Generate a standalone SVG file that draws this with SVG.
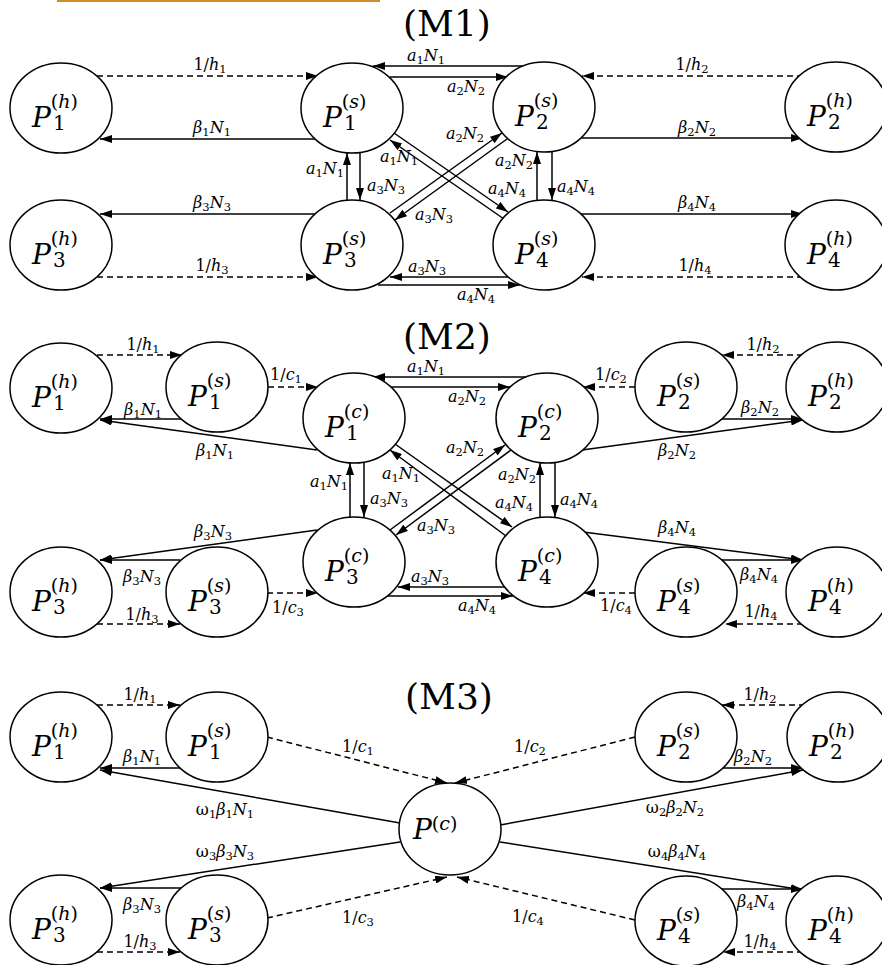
<svg xmlns="http://www.w3.org/2000/svg" width="882" height="965" viewBox="0 0 882 965">
<defs>
  <marker id="ah" markerWidth="12" markerHeight="8" refX="12" refY="4" orient="auto" markerUnits="userSpaceOnUse">
    <path d="M0,0 L12,4 L0,8 z" fill="#000"/>
  </marker>
  <style>
    ellipse { fill: #fff; stroke: #000; stroke-width: 1.5; }
    .e { fill: none; stroke: #000; stroke-width: 1.5; marker-end: url(#ah); }
    .d { stroke-dasharray: 6 4; }
    .P { font-family: "DejaVu Serif", serif; font-style: italic; font-size: 28px; }
    .sp { font-style: normal; font-size: 19px; }
    .sub { font-style: normal; font-size: 20px; }
    .lb { font-family: "DejaVu Serif", serif; font-size: 16px; text-anchor: middle; }
    .i { font-style: italic; }
    .sb { font-size: 11.5px; }
    .ttl { font-family: "DejaVu Serif", serif; font-size: 36px; text-anchor: middle; }
  </style>
</defs>
<rect width="882" height="965" fill="#fff"/>
<rect x="57" y="0" width="323" height="2" fill="#d08a2a"/>

<!-- section titles -->
<text class="ttl" x="447" y="36">(M1)</text>
<text class="ttl" x="447" y="349">(M2)</text>
<text class="ttl" x="449" y="709">(M3)</text>

<!-- connectors -->
<g id="connectors">
  <!-- M1 -->
  <line class="e d" x1="97" y1="76" x2="318" y2="76"/>
  <line class="e" x1="317" y1="139" x2="100" y2="139"/>
  <line class="e" x1="523" y1="66" x2="373" y2="66"/>
  <line class="e" x1="390" y1="77" x2="508" y2="77"/>
  <line class="e d" x1="803" y1="76" x2="582" y2="76"/>
  <line class="e" x1="580" y1="138" x2="803" y2="138"/>
  <line class="e" x1="347" y1="200" x2="347" y2="153"/>
  <line class="e" x1="360" y1="153" x2="360" y2="200"/>
  <line class="e" x1="537" y1="200" x2="537" y2="152"/>
  <line class="e" x1="552" y1="152" x2="552" y2="200"/>
  <line class="e" x1="508" y1="277" x2="390" y2="277"/>
  <line class="e" x1="378" y1="285" x2="520" y2="285"/>
  <line class="e" x1="394" y1="133" x2="508" y2="212"/>
  <line class="e" x1="504" y1="219" x2="390" y2="140"/>
  <line class="e" x1="390" y1="213" x2="502" y2="133"/>
  <line class="e" x1="507" y1="139" x2="395" y2="220"/>
  <line class="e d" x1="803" y1="277" x2="582" y2="277"/>
  <line class="e" x1="580" y1="214" x2="803" y2="214"/>
  <line class="e" x1="317" y1="214" x2="100" y2="214"/>
  <line class="e d" x1="97" y1="277" x2="318" y2="277"/>

  <!-- M2 -->
  <line class="e d" x1="97" y1="355" x2="182" y2="355"/>
  <line class="e" x1="183" y1="419" x2="100" y2="419"/>
  <line class="e" x1="317" y1="450" x2="100" y2="420"/>
  <line class="e d" x1="268" y1="387" x2="318" y2="387"/>
  <line class="e" x1="527" y1="377" x2="373" y2="377"/>
  <line class="e" x1="390" y1="387" x2="510" y2="387"/>
  <line class="e d" x1="635" y1="387" x2="583" y2="387"/>
  <line class="e d" x1="803" y1="355" x2="722" y2="355"/>
  <line class="e" x1="722" y1="419" x2="803" y2="419"/>
  <line class="e" x1="582" y1="450" x2="803" y2="420"/>
  <line class="e" x1="350" y1="517" x2="350" y2="463"/>
  <line class="e" x1="364" y1="463" x2="364" y2="517"/>
  <line class="e" x1="540" y1="517" x2="540" y2="463"/>
  <line class="e" x1="555" y1="463" x2="555" y2="517"/>
  <line class="e" x1="395" y1="444" x2="512" y2="527"/>
  <line class="e" x1="506" y1="536" x2="390" y2="450"/>
  <line class="e" x1="390" y1="530" x2="505" y2="445"/>
  <line class="e" x1="511" y1="450" x2="396" y2="535"/>
  <line class="e" x1="317" y1="530" x2="100" y2="560"/>
  <line class="e" x1="180" y1="560" x2="100" y2="560"/>
  <line class="e d" x1="97" y1="624" x2="180" y2="624"/>
  <line class="e d" x1="267" y1="593" x2="318" y2="593"/>
  <line class="e" x1="505" y1="587" x2="398" y2="587"/>
  <line class="e" x1="387" y1="596" x2="513" y2="596"/>
  <line class="e" x1="583" y1="532" x2="803" y2="560"/>
  <line class="e" x1="720" y1="560" x2="803" y2="560"/>
  <line class="e d" x1="635" y1="593" x2="583" y2="593"/>
  <line class="e d" x1="803" y1="624" x2="725" y2="624"/>

  <!-- M3 -->
  <line class="e d" x1="97" y1="705" x2="180" y2="705"/>
  <line class="e" x1="182" y1="768" x2="100" y2="768"/>
  <line class="e" x1="400" y1="823" x2="100" y2="770"/>
  <line class="e d" x1="267" y1="737" x2="447" y2="783"/>
  <line class="e d" x1="635" y1="737" x2="455" y2="783"/>
  <line class="e d" x1="805" y1="705" x2="722" y2="705"/>
  <line class="e" x1="722" y1="768" x2="803" y2="768"/>
  <line class="e" x1="500" y1="825" x2="803" y2="770"/>
  <line class="e" x1="400" y1="842" x2="100" y2="888"/>
  <line class="e" x1="182" y1="888" x2="100" y2="888"/>
  <line class="e d" x1="97" y1="952" x2="180" y2="952"/>
  <line class="e d" x1="267" y1="918" x2="447" y2="877"/>
  <line class="e" x1="500" y1="842" x2="803" y2="890"/>
  <line class="e" x1="720" y1="889" x2="803" y2="889"/>
  <line class="e d" x1="803" y1="952" x2="723" y2="952"/>
  <line class="e d" x1="635" y1="920" x2="457" y2="877"/>
</g>

<!-- connector labels -->
<g id="labels">
  <!-- M1 -->
  <text class="lb" x="210" y="70">1/<tspan class="i">h</tspan><tspan class="sb" dy="3">1</tspan></text>
  <text class="lb" x="212" y="133"><tspan class="i">β</tspan><tspan class="sb" dy="3">1</tspan><tspan class="i" dy="-3">N</tspan><tspan class="sb" dy="3">1</tspan></text>
  <text class="lb" x="426" y="61"><tspan class="i">a</tspan><tspan class="sb" dy="3">1</tspan><tspan class="i" dy="-3">N</tspan><tspan class="sb" dy="3">1</tspan></text>
  <text class="lb" x="466" y="92"><tspan class="i">a</tspan><tspan class="sb" dy="3">2</tspan><tspan class="i" dy="-3">N</tspan><tspan class="sb" dy="3">2</tspan></text>
  <text class="lb" x="692" y="70">1/<tspan class="i">h</tspan><tspan class="sb" dy="3">2</tspan></text>
  <text class="lb" x="697" y="133"><tspan class="i">β</tspan><tspan class="sb" dy="3">2</tspan><tspan class="i" dy="-3">N</tspan><tspan class="sb" dy="3">2</tspan></text>
  <text class="lb" x="325" y="174"><tspan class="i">a</tspan><tspan class="sb" dy="3">1</tspan><tspan class="i" dy="-3">N</tspan><tspan class="sb" dy="3">1</tspan></text>
  <text class="lb" x="386" y="191"><tspan class="i">a</tspan><tspan class="sb" dy="3">3</tspan><tspan class="i" dy="-3">N</tspan><tspan class="sb" dy="3">3</tspan></text>
  <text class="lb" x="514" y="166"><tspan class="i">a</tspan><tspan class="sb" dy="3">2</tspan><tspan class="i" dy="-3">N</tspan><tspan class="sb" dy="3">2</tspan></text>
  <text class="lb" x="576" y="192"><tspan class="i">a</tspan><tspan class="sb" dy="3">4</tspan><tspan class="i" dy="-3">N</tspan><tspan class="sb" dy="3">4</tspan></text>
  <text class="lb" x="399" y="162"><tspan class="i">a</tspan><tspan class="sb" dy="3">1</tspan><tspan class="i" dy="-3">N</tspan><tspan class="sb" dy="3">1</tspan></text>
  <text class="lb" x="507" y="194"><tspan class="i">a</tspan><tspan class="sb" dy="3">4</tspan><tspan class="i" dy="-3">N</tspan><tspan class="sb" dy="3">4</tspan></text>
  <text class="lb" x="465" y="139"><tspan class="i">a</tspan><tspan class="sb" dy="3">2</tspan><tspan class="i" dy="-3">N</tspan><tspan class="sb" dy="3">2</tspan></text>
  <text class="lb" x="434" y="220"><tspan class="i">a</tspan><tspan class="sb" dy="3">3</tspan><tspan class="i" dy="-3">N</tspan><tspan class="sb" dy="3">3</tspan></text>
  <text class="lb" x="427" y="272"><tspan class="i">a</tspan><tspan class="sb" dy="3">3</tspan><tspan class="i" dy="-3">N</tspan><tspan class="sb" dy="3">3</tspan></text>
  <text class="lb" x="476" y="300"><tspan class="i">a</tspan><tspan class="sb" dy="3">4</tspan><tspan class="i" dy="-3">N</tspan><tspan class="sb" dy="3">4</tspan></text>
  <text class="lb" x="212" y="208"><tspan class="i">β</tspan><tspan class="sb" dy="3">3</tspan><tspan class="i" dy="-3">N</tspan><tspan class="sb" dy="3">3</tspan></text>
  <text class="lb" x="212" y="271">1/<tspan class="i">h</tspan><tspan class="sb" dy="3">3</tspan></text>
  <text class="lb" x="697" y="208"><tspan class="i">β</tspan><tspan class="sb" dy="3">4</tspan><tspan class="i" dy="-3">N</tspan><tspan class="sb" dy="3">4</tspan></text>
  <text class="lb" x="695" y="271">1/<tspan class="i">h</tspan><tspan class="sb" dy="3">4</tspan></text>

  <!-- M2 -->
  <text class="lb" x="143" y="350">1/<tspan class="i">h</tspan><tspan class="sb" dy="3">1</tspan></text>
  <text class="lb" x="143" y="415"><tspan class="i">β</tspan><tspan class="sb" dy="3">1</tspan><tspan class="i" dy="-3">N</tspan><tspan class="sb" dy="3">1</tspan></text>
  <text class="lb" x="215" y="456"><tspan class="i">β</tspan><tspan class="sb" dy="3">1</tspan><tspan class="i" dy="-3">N</tspan><tspan class="sb" dy="3">1</tspan></text>
  <text class="lb" x="286" y="380">1/<tspan class="i">c</tspan><tspan class="sb" dy="3">1</tspan></text>
  <text class="lb" x="426" y="372"><tspan class="i">a</tspan><tspan class="sb" dy="3">1</tspan><tspan class="i" dy="-3">N</tspan><tspan class="sb" dy="3">1</tspan></text>
  <text class="lb" x="467" y="402"><tspan class="i">a</tspan><tspan class="sb" dy="3">2</tspan><tspan class="i" dy="-3">N</tspan><tspan class="sb" dy="3">2</tspan></text>
  <text class="lb" x="611" y="380">1/<tspan class="i">c</tspan><tspan class="sb" dy="3">2</tspan></text>
  <text class="lb" x="763" y="350">1/<tspan class="i">h</tspan><tspan class="sb" dy="3">2</tspan></text>
  <text class="lb" x="760" y="413"><tspan class="i">β</tspan><tspan class="sb" dy="3">2</tspan><tspan class="i" dy="-3">N</tspan><tspan class="sb" dy="3">2</tspan></text>
  <text class="lb" x="677" y="456"><tspan class="i">β</tspan><tspan class="sb" dy="3">2</tspan><tspan class="i" dy="-3">N</tspan><tspan class="sb" dy="3">2</tspan></text>
  <text class="lb" x="329" y="487"><tspan class="i">a</tspan><tspan class="sb" dy="3">1</tspan><tspan class="i" dy="-3">N</tspan><tspan class="sb" dy="3">1</tspan></text>
  <text class="lb" x="389" y="504"><tspan class="i">a</tspan><tspan class="sb" dy="3">3</tspan><tspan class="i" dy="-3">N</tspan><tspan class="sb" dy="3">3</tspan></text>
  <text class="lb" x="517" y="480"><tspan class="i">a</tspan><tspan class="sb" dy="3">2</tspan><tspan class="i" dy="-3">N</tspan><tspan class="sb" dy="3">2</tspan></text>
  <text class="lb" x="579" y="505"><tspan class="i">a</tspan><tspan class="sb" dy="3">4</tspan><tspan class="i" dy="-3">N</tspan><tspan class="sb" dy="3">4</tspan></text>
  <text class="lb" x="401" y="479"><tspan class="i">a</tspan><tspan class="sb" dy="3">1</tspan><tspan class="i" dy="-3">N</tspan><tspan class="sb" dy="3">1</tspan></text>
  <text class="lb" x="514" y="508"><tspan class="i">a</tspan><tspan class="sb" dy="3">4</tspan><tspan class="i" dy="-3">N</tspan><tspan class="sb" dy="3">4</tspan></text>
  <text class="lb" x="465" y="453"><tspan class="i">a</tspan><tspan class="sb" dy="3">2</tspan><tspan class="i" dy="-3">N</tspan><tspan class="sb" dy="3">2</tspan></text>
  <text class="lb" x="436" y="531"><tspan class="i">a</tspan><tspan class="sb" dy="3">3</tspan><tspan class="i" dy="-3">N</tspan><tspan class="sb" dy="3">3</tspan></text>
  <text class="lb" x="213" y="537"><tspan class="i">β</tspan><tspan class="sb" dy="3">3</tspan><tspan class="i" dy="-3">N</tspan><tspan class="sb" dy="3">3</tspan></text>
  <text class="lb" x="142" y="582"><tspan class="i">β</tspan><tspan class="sb" dy="3">3</tspan><tspan class="i" dy="-3">N</tspan><tspan class="sb" dy="3">3</tspan></text>
  <text class="lb" x="142" y="620">1/<tspan class="i">h</tspan><tspan class="sb" dy="3">3</tspan></text>
  <text class="lb" x="288" y="613">1/<tspan class="i">c</tspan><tspan class="sb" dy="3">3</tspan></text>
  <text class="lb" x="430" y="582"><tspan class="i">a</tspan><tspan class="sb" dy="3">3</tspan><tspan class="i" dy="-3">N</tspan><tspan class="sb" dy="3">3</tspan></text>
  <text class="lb" x="477" y="611"><tspan class="i">a</tspan><tspan class="sb" dy="3">4</tspan><tspan class="i" dy="-3">N</tspan><tspan class="sb" dy="3">4</tspan></text>
  <text class="lb" x="677" y="533"><tspan class="i">β</tspan><tspan class="sb" dy="3">4</tspan><tspan class="i" dy="-3">N</tspan><tspan class="sb" dy="3">4</tspan></text>
  <text class="lb" x="759" y="580"><tspan class="i">β</tspan><tspan class="sb" dy="3">4</tspan><tspan class="i" dy="-3">N</tspan><tspan class="sb" dy="3">4</tspan></text>
  <text class="lb" x="616" y="611">1/<tspan class="i">c</tspan><tspan class="sb" dy="3">4</tspan></text>
  <text class="lb" x="761" y="617">1/<tspan class="i">h</tspan><tspan class="sb" dy="3">4</tspan></text>

  <!-- M3 -->
  <text class="lb" x="140" y="700">1/<tspan class="i">h</tspan><tspan class="sb" dy="3">1</tspan></text>
  <text class="lb" x="142" y="762"><tspan class="i">β</tspan><tspan class="sb" dy="3">1</tspan><tspan class="i" dy="-3">N</tspan><tspan class="sb" dy="3">1</tspan></text>
  <text class="lb" x="225" y="815">ω<tspan class="sb" dy="3">1</tspan><tspan class="i" dy="-3">β</tspan><tspan class="sb" dy="3">1</tspan><tspan class="i" dy="-3">N</tspan><tspan class="sb" dy="3">1</tspan></text>
  <text class="lb" x="358" y="752">1/<tspan class="i">c</tspan><tspan class="sb" dy="3">1</tspan></text>
  <text class="lb" x="530" y="752">1/<tspan class="i">c</tspan><tspan class="sb" dy="3">2</tspan></text>
  <text class="lb" x="760" y="700">1/<tspan class="i">h</tspan><tspan class="sb" dy="3">2</tspan></text>
  <text class="lb" x="753" y="762"><tspan class="i">β</tspan><tspan class="sb" dy="3">2</tspan><tspan class="i" dy="-3">N</tspan><tspan class="sb" dy="3">2</tspan></text>
  <text class="lb" x="675" y="813">ω<tspan class="sb" dy="3">2</tspan><tspan class="i" dy="-3">β</tspan><tspan class="sb" dy="3">2</tspan><tspan class="i" dy="-3">N</tspan><tspan class="sb" dy="3">2</tspan></text>
  <text class="lb" x="225" y="857">ω<tspan class="sb" dy="3">3</tspan><tspan class="i" dy="-3">β</tspan><tspan class="sb" dy="3">3</tspan><tspan class="i" dy="-3">N</tspan><tspan class="sb" dy="3">3</tspan></text>
  <text class="lb" x="142" y="910"><tspan class="i">β</tspan><tspan class="sb" dy="3">3</tspan><tspan class="i" dy="-3">N</tspan><tspan class="sb" dy="3">3</tspan></text>
  <text class="lb" x="140" y="947">1/<tspan class="i">h</tspan><tspan class="sb" dy="3">3</tspan></text>
  <text class="lb" x="358" y="923">1/<tspan class="i">c</tspan><tspan class="sb" dy="3">3</tspan></text>
  <text class="lb" x="677" y="857">ω<tspan class="sb" dy="3">4</tspan><tspan class="i" dy="-3">β</tspan><tspan class="sb" dy="3">4</tspan><tspan class="i" dy="-3">N</tspan><tspan class="sb" dy="3">4</tspan></text>
  <text class="lb" x="756" y="907"><tspan class="i">β</tspan><tspan class="sb" dy="3">4</tspan><tspan class="i" dy="-3">N</tspan><tspan class="sb" dy="3">4</tspan></text>
  <text class="lb" x="760" y="947">1/<tspan class="i">h</tspan><tspan class="sb" dy="3">4</tspan></text>
  <text class="lb" x="528" y="922">1/<tspan class="i">c</tspan><tspan class="sb" dy="3">4</tspan></text>
</g>

<!-- M1 nodes -->
<g id="m1-p1h"><ellipse cx="61" cy="108" rx="51" ry="45"/><text class="P" x="32" y="127">P<tspan class="sp" dy="-19">(<tspan class="i">h</tspan>)</tspan><tspan class="sub" x="53" dy="22">1</tspan></text></g>
<g id="m1-p1s"><ellipse cx="352" cy="108" rx="51" ry="45"/><text class="P" x="323" y="127">P<tspan class="sp" dy="-19">(<tspan class="i">s</tspan>)</tspan><tspan class="sub" x="344" dy="22">1</tspan></text></g>
<g id="m1-p2s"><ellipse cx="544" cy="107" rx="51" ry="45"/><text class="P" x="515" y="126">P<tspan class="sp" dy="-19">(<tspan class="i">s</tspan>)</tspan><tspan class="sub" x="536" dy="22">2</tspan></text></g>
<g id="m1-p2h"><ellipse cx="836" cy="107" rx="51" ry="45"/><text class="P" x="807" y="126">P<tspan class="sp" dy="-19">(<tspan class="i">h</tspan>)</tspan><tspan class="sub" x="828" dy="22">2</tspan></text></g>
<g id="m1-p3h"><ellipse cx="61" cy="245" rx="51" ry="45"/><text class="P" x="32" y="264">P<tspan class="sp" dy="-19">(<tspan class="i">h</tspan>)</tspan><tspan class="sub" x="53" dy="22">3</tspan></text></g>
<g id="m1-p3s"><ellipse cx="352" cy="245" rx="51" ry="45"/><text class="P" x="323" y="264">P<tspan class="sp" dy="-19">(<tspan class="i">s</tspan>)</tspan><tspan class="sub" x="344" dy="22">3</tspan></text></g>
<g id="m1-p4s"><ellipse cx="544" cy="245" rx="51" ry="45"/><text class="P" x="515" y="264">P<tspan class="sp" dy="-19">(<tspan class="i">s</tspan>)</tspan><tspan class="sub" x="536" dy="22">4</tspan></text></g>
<g id="m1-p4h"><ellipse cx="836" cy="245" rx="51" ry="45"/><text class="P" x="807" y="264">P<tspan class="sp" dy="-19">(<tspan class="i">h</tspan>)</tspan><tspan class="sub" x="828" dy="22">4</tspan></text></g>

<!-- M2 nodes -->
<g id="m2-p1h"><ellipse cx="61" cy="388" rx="51" ry="45"/><text class="P" x="32" y="407">P<tspan class="sp" dy="-19">(<tspan class="i">h</tspan>)</tspan><tspan class="sub" x="53" dy="22">1</tspan></text></g>
<g id="m2-p1s"><ellipse cx="217" cy="387" rx="51" ry="45"/><text class="P" x="188" y="406">P<tspan class="sp" dy="-19">(<tspan class="i">s</tspan>)</tspan><tspan class="sub" x="209" dy="22">1</tspan></text></g>
<g id="m2-p1c"><ellipse cx="354" cy="418" rx="51" ry="45"/><text class="P" x="325" y="437">P<tspan class="sp" dy="-19">(<tspan class="i">c</tspan>)</tspan><tspan class="sub" x="346" dy="22">1</tspan></text></g>
<g id="m2-p2c"><ellipse cx="547" cy="418" rx="51" ry="45"/><text class="P" x="518" y="437">P<tspan class="sp" dy="-19">(<tspan class="i">c</tspan>)</tspan><tspan class="sub" x="539" dy="22">2</tspan></text></g>
<g id="m2-p2s"><ellipse cx="686" cy="387" rx="51" ry="45"/><text class="P" x="657" y="406">P<tspan class="sp" dy="-19">(<tspan class="i">s</tspan>)</tspan><tspan class="sub" x="678" dy="22">2</tspan></text></g>
<g id="m2-p2h"><ellipse cx="837" cy="387" rx="51" ry="45"/><text class="P" x="808" y="406">P<tspan class="sp" dy="-19">(<tspan class="i">h</tspan>)</tspan><tspan class="sub" x="829" dy="22">2</tspan></text></g>
<g id="m2-p3h"><ellipse cx="61" cy="592" rx="51" ry="45"/><text class="P" x="32" y="611">P<tspan class="sp" dy="-19">(<tspan class="i">h</tspan>)</tspan><tspan class="sub" x="53" dy="22">3</tspan></text></g>
<g id="m2-p3s"><ellipse cx="217" cy="592" rx="51" ry="45"/><text class="P" x="188" y="611">P<tspan class="sp" dy="-19">(<tspan class="i">s</tspan>)</tspan><tspan class="sub" x="209" dy="22">3</tspan></text></g>
<g id="m2-p3c"><ellipse cx="354" cy="562" rx="51" ry="45"/><text class="P" x="325" y="581">P<tspan class="sp" dy="-19">(<tspan class="i">c</tspan>)</tspan><tspan class="sub" x="346" dy="22">3</tspan></text></g>
<g id="m2-p4c"><ellipse cx="547" cy="562" rx="51" ry="45"/><text class="P" x="518" y="581">P<tspan class="sp" dy="-19">(<tspan class="i">c</tspan>)</tspan><tspan class="sub" x="539" dy="22">4</tspan></text></g>
<g id="m2-p4s"><ellipse cx="686" cy="592" rx="51" ry="45"/><text class="P" x="657" y="611">P<tspan class="sp" dy="-19">(<tspan class="i">s</tspan>)</tspan><tspan class="sub" x="678" dy="22">4</tspan></text></g>
<g id="m2-p4h"><ellipse cx="837" cy="592" rx="51" ry="45"/><text class="P" x="808" y="611">P<tspan class="sp" dy="-19">(<tspan class="i">h</tspan>)</tspan><tspan class="sub" x="829" dy="22">4</tspan></text></g>

<!-- M3 nodes -->
<g id="m3-p1h"><ellipse cx="61" cy="737" rx="51" ry="45"/><text class="P" x="32" y="756">P<tspan class="sp" dy="-19">(<tspan class="i">h</tspan>)</tspan><tspan class="sub" x="53" dy="22">1</tspan></text></g>
<g id="m3-p1s"><ellipse cx="217" cy="737" rx="51" ry="45"/><text class="P" x="188" y="756">P<tspan class="sp" dy="-19">(<tspan class="i">s</tspan>)</tspan><tspan class="sub" x="209" dy="22">1</tspan></text></g>
<g id="m3-p2s"><ellipse cx="686" cy="737" rx="51" ry="45"/><text class="P" x="657" y="756">P<tspan class="sp" dy="-19">(<tspan class="i">s</tspan>)</tspan><tspan class="sub" x="678" dy="22">2</tspan></text></g>
<g id="m3-p2h"><ellipse cx="838" cy="737" rx="51" ry="45"/><text class="P" x="809" y="756">P<tspan class="sp" dy="-19">(<tspan class="i">h</tspan>)</tspan><tspan class="sub" x="830" dy="22">2</tspan></text></g>
<g id="m3-pc"><ellipse cx="450" cy="829" rx="51" ry="46"/><text class="P" x="413" y="839">P<tspan class="sp" dy="-9">(<tspan class="i">c</tspan>)</tspan></text></g>
<g id="m3-p3h"><ellipse cx="61" cy="920" rx="51" ry="45"/><text class="P" x="32" y="939">P<tspan class="sp" dy="-19">(<tspan class="i">h</tspan>)</tspan><tspan class="sub" x="53" dy="22">3</tspan></text></g>
<g id="m3-p3s"><ellipse cx="217" cy="920" rx="51" ry="45"/><text class="P" x="188" y="939">P<tspan class="sp" dy="-19">(<tspan class="i">s</tspan>)</tspan><tspan class="sub" x="209" dy="22">3</tspan></text></g>
<g id="m3-p4s"><ellipse cx="686" cy="921" rx="51" ry="45"/><text class="P" x="657" y="940">P<tspan class="sp" dy="-19">(<tspan class="i">s</tspan>)</tspan><tspan class="sub" x="678" dy="22">4</tspan></text></g>
<g id="m3-p4h"><ellipse cx="837" cy="921" rx="51" ry="45"/><text class="P" x="808" y="940">P<tspan class="sp" dy="-19">(<tspan class="i">h</tspan>)</tspan><tspan class="sub" x="829" dy="22">4</tspan></text></g>
</svg>
